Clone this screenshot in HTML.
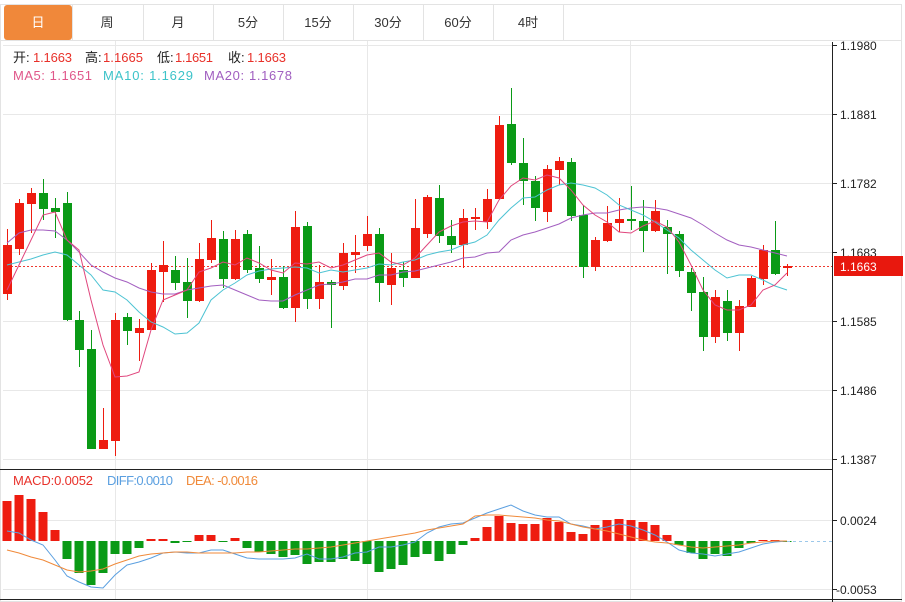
<!DOCTYPE html>
<html><head><meta charset="utf-8"><style>
html,body{margin:0;padding:0;background:#fff;width:905px;height:602px;overflow:hidden;font-family:"Liberation Sans","Noto Sans CJK SC",sans-serif}
svg{position:absolute;left:0;top:0}
</style></head><body>
<svg id="s" width="905" height="602" xmlns="http://www.w3.org/2000/svg" font-family="Liberation Sans, Noto Sans CJK SC, sans-serif">
<rect x="0.5" y="4.5" width="901" height="597" fill="#fff" stroke="#e3e3e3"/>
<line x1="0" y1="40.5" x2="902" y2="40.5" stroke="#e3e3e3"/>
<g stroke="#e3e3e3">
<line x1="72.5" y1="5" x2="72.5" y2="40"/><line x1="143.5" y1="5" x2="143.5" y2="40"/><line x1="213.5" y1="5" x2="213.5" y2="40"/><line x1="283.5" y1="5" x2="283.5" y2="40"/><line x1="353.5" y1="5" x2="353.5" y2="40"/><line x1="423.5" y1="5" x2="423.5" y2="40"/><line x1="493.5" y1="5" x2="493.5" y2="40"/><line x1="563.5" y1="5" x2="563.5" y2="40"/>
</g>
<rect x="4" y="5" width="68" height="35" rx="3" fill="#f0883a"/>
<g font-size="13" fill="#333" text-anchor="middle">
<text x="38" y="27" fill="#fff">日</text><text x="107" y="27">周</text><text x="178" y="27">月</text><text x="248" y="27">5分</text><text x="318" y="27">15分</text><text x="388" y="27">30分</text><text x="458" y="27">60分</text><text x="528" y="27">4时</text>
</g>
<g stroke="#e8e8e8">
<line x1="3" y1="45.5" x2="832" y2="45.5"/><line x1="3" y1="114.5" x2="832" y2="114.5"/><line x1="3" y1="183.5" x2="832" y2="183.5"/><line x1="3" y1="252.5" x2="832" y2="252.5"/><line x1="3" y1="321.5" x2="832" y2="321.5"/><line x1="3" y1="390.5" x2="832" y2="390.5"/><line x1="3" y1="459.5" x2="832" y2="459.5"/>
<line x1="3" y1="520.5" x2="832" y2="520.5"/><line x1="3" y1="589.5" x2="832" y2="589.5"/>
<line x1="115.5" y1="41" x2="115.5" y2="600"/><line x1="367.5" y1="41" x2="367.5" y2="600"/><line x1="630.5" y1="41" x2="630.5" y2="600"/>
</g>
<g font-size="13">
<text x="13" y="62" fill="#222">开:</text><text x="33" y="62" fill="#e8312a" textLength="39">1.1663</text>
<text x="85" y="62" fill="#222">高:</text><text x="103" y="62" fill="#e8312a" textLength="40">1.1665</text>
<text x="157" y="62" fill="#222">低:</text><text x="175" y="62" fill="#e8312a" textLength="38">1.1651</text>
<text x="228" y="62" fill="#222">收:</text><text x="247" y="62" fill="#e8312a" textLength="39">1.1663</text>
<text x="13" y="80" fill="#e0578a" textLength="79">MA5: 1.1651</text>
<text x="103" y="80" fill="#3cc3c9" textLength="90">MA10: 1.1629</text>
<text x="204" y="80" fill="#a05ec0" textLength="88">MA20: 1.1678</text>
<text x="13" y="485" fill="#e8312a" textLength="80">MACD:0.0052</text>
<text x="107" y="485" fill="#5a9fe0" textLength="66">DIFF:0.0010</text>
<text x="186" y="485" fill="#f08a3a" textLength="72">DEA: -0.0016</text>
</g>
<g id="c"></g>
<line x1="0" y1="469.5" x2="832" y2="469.5" stroke="#222"/>
<line x1="0" y1="599.5" x2="902" y2="599.5" stroke="#222"/>
<line x1="832.5" y1="42" x2="832.5" y2="602" stroke="#222"/>
<g font-size="12" fill="#222">
<line x1="832" y1="45.5" x2="837" y2="45.5" stroke="#222"/><text x="840" y="50">1.1980</text>
<line x1="832" y1="114.5" x2="837" y2="114.5" stroke="#222"/><text x="840" y="119">1.1881</text>
<line x1="832" y1="183.5" x2="837" y2="183.5" stroke="#222"/><text x="840" y="188">1.1782</text>
<line x1="832" y1="252.5" x2="837" y2="252.5" stroke="#222"/><text x="840" y="257">1.1683</text>
<line x1="832" y1="321.5" x2="837" y2="321.5" stroke="#222"/><text x="840" y="326">1.1585</text>
<line x1="832" y1="390.5" x2="837" y2="390.5" stroke="#222"/><text x="840" y="395">1.1486</text>
<line x1="832" y1="459.5" x2="837" y2="459.5" stroke="#222"/><text x="840" y="464">1.1387</text>
<line x1="832" y1="520.5" x2="837" y2="520.5" stroke="#222"/><text x="840" y="525">0.0024</text>
<line x1="832" y1="589.5" x2="837" y2="589.5" stroke="#222"/><text x="836" y="594">-0.0053</text>
</g>
<rect x="834" y="256" width="69" height="20" fill="#e8180e"/>
<text x="840" y="271" font-size="12" fill="#fff">1.1663</text>
</svg>
<script>
var R="#ee1c10",G="#0a9a16";
var C=[[245,294,229,300,1],[203,249,199,255,1],[193,204,188,233,1],[193,209,179,220,0],[208,212,198,238,0],[203,320,192,321,0],[320,350,311,367,0],[349,449,330,449,0],[440,449,408,449,1],[320,441,313,456,1],[317,331,313,345,0],[328,333,319,361,1],[270,330,263,330,1],[265,272,241,302,1],[270,283,256,290,0],[282,301,258,318,0],[259,301,243,302,1],[238,260,220,263,1],[239,279,231,288,0],[239,279,230,280,1],[234,270,230,273,0],[268,279,246,283,0],[277,280,259,295,1],[277,308,266,309,0],[227,308,211,322,1],[226,299,222,309,0],[282,299,265,309,1],[282,285,280,328,0],[253,286,243,290,1],[252,255,235,273,1],[234,246,216,251,1],[234,283,228,302,0],[268,285,253,305,1],[270,278,262,287,0],[228,278,199,278,1],[197,234,195,238,1],[198,236,185,243,0],[236,245,220,253,0],[218,245,209,268,1],[217,218,208,230,1],[199,222,189,229,1],[125,199,116,199,1],[124,163,88,165,0],[163,181,138,205,0],[181,208,176,221,0],[169,212,165,222,1],[161,170,157,185,1],[162,216,158,221,0],[215,267,205,278,0],[240,267,237,271,1],[223,241,206,242,1],[219,223,198,232,1],[219,221,186,230,0],[221,231,200,252,0],[211,231,200,232,1],[227,234,220,274,0],[234,271,231,277,0],[272,293,268,311,0],[292,337,277,351,0],[297,337,290,343,1],[301,333,290,341,0],[306,333,300,351,1],[278,307,276,307,1],[250,279,245,285,1],[250,274,221,275,0],[266,267,264,276,1]];
var M5=[290,265,240,215,212,240,250,300,345,377,376,372,330,300,295,290,272,268,262,265,258,263,270,273,263,264,262,268,265,260,255,253,262,265,258,245,232,226,222,221,222,200,186,178,180,175,178,190,205,215,222,232,233,226,221,227,242,265,290,305,310,310,305,290,285,273];
var M10=[265,262,259,255,252,255,265,275,290,292,300,312,322,327,334,333,323,300,290,283,275,271,269,268,267,268,273,270,272,270,268,264,265,262,260,255,252,250,245,242,235,220,208,198,197,190,185,183,185,188,195,205,210,215,222,230,238,250,260,270,278,275,275,280,286,290];
var M20=[243,233,230,230,231,240,252,265,272,278,282,288,292,294,294,290,288,286,285,290,295,300,301,301,295,290,285,284,282,279,279,275,275,272,271,268,265,262,258,257,253,252,240,235,232,228,224,218,215,213,213,210,208,207,208,210,214,218,225,233,240,245,247,250,253,256];
var H=[501,495,499,512,530,559,573,585,573,554,554,548,539,539,543,542,535,535,542,538,548,552,554,557,555,564,562,562,559,561,564,572,569,565,557,554,561,554,545,538,527,516,523,524,524,518,522,532,534,525,520,519,520,522,525,535,545,553,559,554,556,548,543,540,540,541];
var DF=[531,533,540,545,560,576,582,587,588,575,565,562,558,553,552,553,553,550,550,554,558,559,559,559,558,554,559,559,557,553,552,547,547,545,542,533,527,524,523,518,513,509,505,511,515,517,517,524,526,529,527,524,526,530,535,542,550,553,554,556,554,552,548,544,542,541];
var DE=[550,553,557,560,565,570,572,571,569,564,560,556,554,553,552,552,553,553,553,553,552,552,551,550,549,549,548,547,545,543,541,539,537,535,533,530,528,526,524,516,515,515,516,517,518,520,521,524,527,529,531,534,537,540,542,543,545,547,548,547,546,545,543,542,541,541];
var x=i=>7+12*i,o="";
function pl(a,c){return '<polyline fill="none" stroke="'+c+'" stroke-width="1" points="'+a.map((v,i)=>x(i)+','+v).join(' ')+'"/>';}
H.forEach((v,i)=>{var up=v<541,t=Math.min(v,541),h=Math.max(1,Math.abs(v-541));o+='<rect x="'+(x(i)-4.5)+'" y="'+t+'" width="9" height="'+h+'" fill="'+(up?R:G)+'"/>';});
o+='<line x1="787" y1="541.5" x2="832" y2="541.5" stroke="#9cc8ea" stroke-dasharray="3,3"/>';
o+=pl(DF,"#5a9fe0")+pl(DE,"#f08a3a");
o+='<line x1="3" y1="266.5" x2="832" y2="266.5" stroke="#ee3a30" stroke-dasharray="2,2"/>';
C.forEach((c,i)=>{var col=c[4]?R:G,X=x(i);o+='<line x1="'+(X+.5)+'" y1="'+c[2]+'" x2="'+(X+.5)+'" y2="'+c[3]+'" stroke="'+col+'"/>';o+='<rect x="'+(X-4)+'" y="'+c[0]+'" width="9" height="'+Math.max(2,c[1]-c[0])+'" fill="'+col+'"/>';});
o+=pl(M20,"#a35fc0")+pl(M10,"#4dc3d3")+pl(M5,"#e0467d");
document.getElementById("c").innerHTML=o;
</script>
</body></html>
